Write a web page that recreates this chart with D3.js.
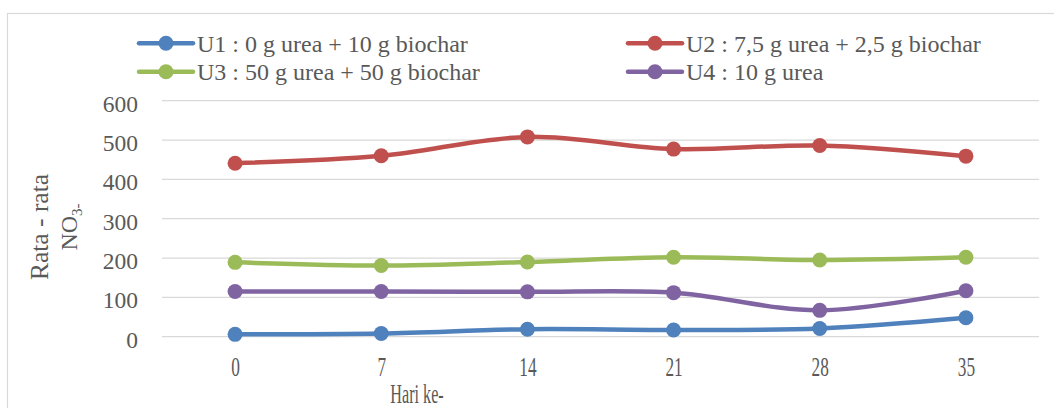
<!DOCTYPE html>
<html>
<head>
<meta charset="utf-8">
<script src="https://cdn.jsdelivr.net/npm/d3@7"></script>
<style>
    body { margin: 0; background: #fff; }
    text { font-family: "Liberation Serif", "DejaVu Serif", serif; fill: #595959; }
</style>
</head>
<body>
<div id="chart"></div>
<script>
// NO3- average per day, four urea/biochar treatments
const days = ["0", "7", "14", "21", "28", "35"];
const yTicks = [0, 100, 200, 300, 400, 500, 600];

const seriesNames = [
    "U1 : 0 g urea + 10 g biochar",
    "U2 : 7,5 g urea + 2,5 g biochar",
    "U3 : 50 g urea + 50 g biochar",
    "U4 : 10 g urea"
];
const u1 = [6, 8, 19, 17, 21, 48];
const u2 = [441, 460, 508, 477, 486, 459];
const u3 = [189, 181, 190, 202, 195, 202];
const u4 = [115, 115, 114, 112, 67, 117];

{
    const W = 1054, H = 408;
    const margin = { top: 100.7, right: 15, bottom: 71.3, left: 162 };
    const colors = ["#4F81BD", "#C0504D", "#9BBB59", "#8064A2"];
    const data = [u1, u2, u3, u4].map((vals, i) => ({
        name: seriesNames[i],
        color: colors[i],
        values: vals.map((v, j) => ({ day: days[j], value: v }))
    }));

    const svg = d3.select("#chart")
        .append("svg")
        .attr("width", W)
        .attr("height", H);

    // chart frame
    svg.append("rect")
        .attr("x", 7.5).attr("y", 13.5)
        .attr("width", 1070).attr("height", 420)
        .attr("fill", "none")
        .attr("stroke", "#d9d9d9")
        .attr("stroke-width", 1.2);

    const x = d3.scalePoint().domain(days)
        .range([margin.left, W - margin.right]).padding(0.5);
    const y = d3.scaleLinear().domain([0, 600])
        .range([H - margin.bottom, margin.top]);

    // gridlines
    svg.append("g")
        .selectAll("line")
        .data(yTicks)
        .join("line")
        .attr("x1", margin.left).attr("x2", W - margin.right)
        .attr("y1", d => y(d)).attr("y2", d => y(d))
        .attr("stroke", "#d9d9d9")
        .attr("stroke-width", 1.3);

    // y axis labels
    const yAxis = svg.append("g")
        .attr("transform", `translate(${margin.left},0)`)
        .call(d3.axisLeft(y).tickValues(yTicks).tickSize(0).tickPadding(24));
    yAxis.select(".domain").remove();
    yAxis.selectAll("text")
        .attr("dy", "0.45em")
        .style("font-size", "23.5px")
        .attr("fill", "#595959");

    // x axis labels (narrow, tall glyphs like the source)
    const xAxis = svg.append("g")
        .attr("transform", `translate(0,${H - margin.bottom})`)
        .call(d3.axisBottom(x).tickSize(0));
    xAxis.select(".domain").remove();
    xAxis.selectAll("text")
        .attr("y", 39.5)
        .attr("dy", 0)
        .attr("transform", "scale(0.64,1)")
        .style("font-size", "27px")
        .attr("fill", "#595959");

    // axis titles
    svg.append("text")
        .attr("transform", "translate(417,403) scale(0.6,1)")
        .attr("text-anchor", "middle")
        .style("font-size", "27px")
        .text("Hari ke-");

    const yTitle = svg.append("text")
        .attr("transform", "translate(0,227) rotate(-90)")
        .attr("text-anchor", "middle")
        .style("font-size", "25.5px");
    yTitle.append("tspan").attr("x", 0).attr("y", 48).text("Rata - rata");
    const no3 = yTitle.append("tspan").attr("x", 0).attr("y", 77);
    no3.append("tspan").style("font-size", "24px").text("NO");
    no3.append("tspan").attr("dy", 5).style("font-size", "15px").text("3-");

    // lines
    const line = d3.line()
        .x(d => x(d.day))
        .y(d => y(d.value))
        .curve(d3.curveCatmullRom.alpha(0.5));

    const groups = svg.selectAll(".series")
        .data(data)
        .join("g")
        .attr("class", "series");

    groups.append("path")
        .attr("fill", "none")
        .attr("stroke", d => d.color)
        .attr("stroke-width", 4.5)
        .attr("stroke-linecap", "round")
        .attr("d", d => line(d.values));

    groups.selectAll("circle")
        .data(d => d.values.map(v => ({ ...v, color: d.color })))
        .join("circle")
        .attr("cx", d => x(d.day))
        .attr("cy", d => y(d.value))
        .attr("r", 7.5)
        .attr("fill", d => d.color);

    // legend (two columns, two rows)
    const legendPos = [[139, 43.3], [628, 43.3], [139, 71.7], [628, 71.7]];
    const legend = svg.selectAll(".legend")
        .data(data)
        .join("g")
        .attr("class", "legend")
        .attr("transform", (d, i) => `translate(${legendPos[i][0]},${legendPos[i][1]})`);

    legend.append("line")
        .attr("x1", 0).attr("x2", 54)
        .attr("stroke", d => d.color)
        .attr("stroke-width", 4.5)
        .attr("stroke-linecap", "round");
    legend.append("circle")
        .attr("cx", 27).attr("r", 7.5)
        .attr("fill", d => d.color);
    legend.append("text")
        .attr("x", 58).attr("y", 8.5)
        .style("font-size", "24px")
        .text(d => d.name);
}
</script>
</body>
</html>
